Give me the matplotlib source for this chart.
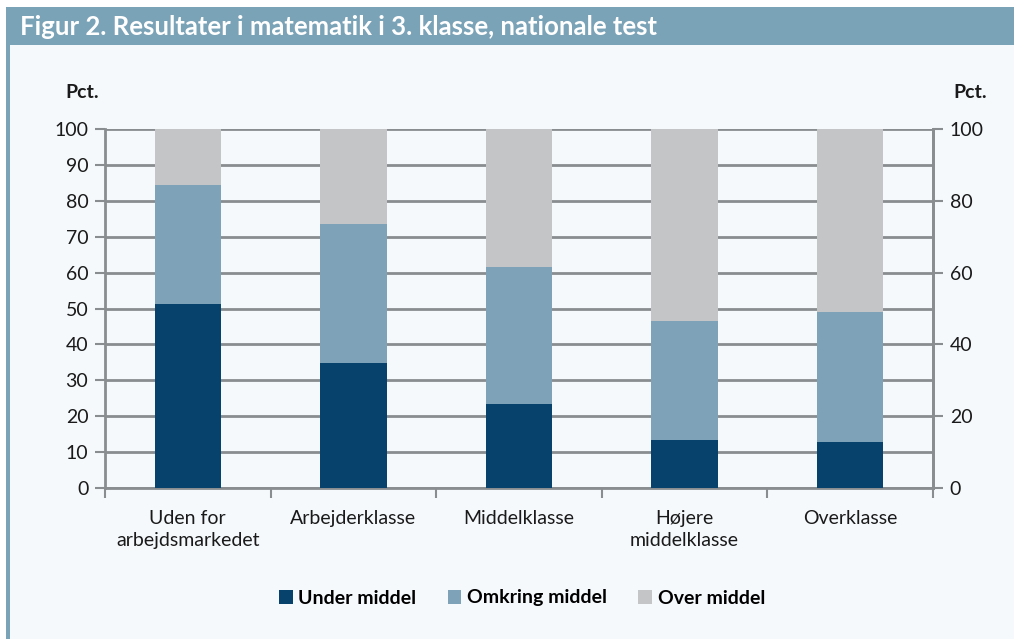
import matplotlib
matplotlib.use("Agg")
import matplotlib.pyplot as plt
from matplotlib.patches import Rectangle, Patch
import numpy as np

# ── Data ──────────────────────────────────
categories = ["Uden for\narbejdsmarkedet", "Arbejderklasse", "Middelklasse",
              "Højere\nmiddelklasse", "Overklasse"]
under_middel = [51.2, 34.8, 23.4, 13.3, 12.7]
omkring_middel = [33.3, 38.7, 38.1, 33.2, 36.3]
over_middel = [15.5, 26.5, 38.5, 53.5, 51.0]

series_names = ["Under middel", "Omkring middel", "Over middel"]
colors = ["#06426b", "#7ea2b8", "#c4c5c7"]

title = "Figur 2. Resultater i matematik i 3. klasse, nationale test"

plt.rcParams["font.family"] = ["Lato", "DejaVu Sans"]

W, H = 1014, 639
fig = plt.figure(figsize=(W / 100, H / 100), dpi=100)
fig.patch.set_facecolor("white")


def px(x0, y0, w, h):
    # pixel box (top-left origin) -> figure fraction
    return x0 / W, 1 - (y0 + h) / H, w / W, h / H


# panel background, header, left border
x0, y0, w, h = px(7, 8, W - 7, H - 8)
fig.add_artist(Rectangle((x0, y0), w, h, transform=fig.transFigure,
                         facecolor="#f5f9fc", edgecolor="none", zorder=0))
x0, y0, w, h = px(6, 8, 4, H - 8)
fig.add_artist(Rectangle((x0, y0), w, h, transform=fig.transFigure,
                         facecolor="#7ba3b8", edgecolor="none", zorder=1))
x0, y0, w, h = px(6, 7, W - 6, 38)
fig.add_artist(Rectangle((x0, y0), w, h, transform=fig.transFigure,
                         facecolor="#7ba3b8", edgecolor="none", zorder=1))
fig.text(20 / W, 1 - 27 / H, title, color="white", fontsize=18.5,
         fontweight="bold", va="center", ha="left")

# ── Axes ──────────────────────────────────
ax = fig.add_axes([105 / W, 1 - 488 / H, (933 - 105) / W, (488 - 129) / H])
ax.set_facecolor("none")

x = np.arange(len(categories))
bottom = np.zeros(len(categories))
for vals, name, col in zip([under_middel, omkring_middel, over_middel],
                           series_names, colors):
    ax.bar(x, vals, width=0.4, bottom=bottom, color=col, label=name,
           zorder=3)
    bottom += np.array(vals)

ax.set_xlim(-0.5, len(categories) - 0.5)
ax.set_ylim(0, 100)
ax.set_yticks(np.arange(0, 101, 10))
ax.yaxis.grid(True, color="#8a8d90", linewidth=2, zorder=1)
ax.set_axisbelow(True)

grey = "#8a8d90"
ax.spines["top"].set_visible(False)
for side in ["left", "right", "bottom"]:
    ax.spines[side].set_color(grey)
    ax.spines[side].set_linewidth(2)

ax.tick_params(axis="y", length=7, width=1.5, color=grey, labelsize=14,
               pad=5, labelcolor="#1a1a1a")

ax.set_xticks(x)
ax.set_xticklabels(categories, fontsize=14, color="#1a1a1a",
                   linespacing=1.35)
ax.tick_params(axis="x", length=0, pad=16)
ax.set_xticks(np.arange(-0.5, len(categories), 1), minor=True)
ax.tick_params(axis="x", which="minor", length=7, width=1.5, color=grey)

ax2 = ax.twinx()
ax2.set_ylim(0, 100)
ax2.set_yticks(np.arange(0, 101, 20))
ax2.tick_params(axis="y", length=7, width=1.5, color=grey, labelsize=14,
                pad=5, labelcolor="#1a1a1a")
for side in ["left", "top", "bottom"]:
    ax2.spines[side].set_visible(False)
ax2.spines["right"].set_color(grey)
ax2.spines["right"].set_linewidth(2)

fig.text(82 / W, 1 - 92 / H, "Pct.", fontsize=14, fontweight="bold",
         ha="center", va="center", color="#1a1a1a")
fig.text(970 / W, 1 - 92 / H, "Pct.", fontsize=14, fontweight="bold",
         ha="center", va="center", color="#1a1a1a")

handles = [Patch(facecolor=c, edgecolor="none") for c in colors]
leg = fig.legend(handles, series_names, loc="center",
                 bbox_to_anchor=(522 / W, 1 - 598 / H), ncol=3,
                 frameon=False, handlelength=0.7, handleheight=0.7,
                 handletextpad=0.3, columnspacing=1.6,
                 prop={"size": 14, "weight": "bold"})

fig.savefig("out.png", dpi=100)
